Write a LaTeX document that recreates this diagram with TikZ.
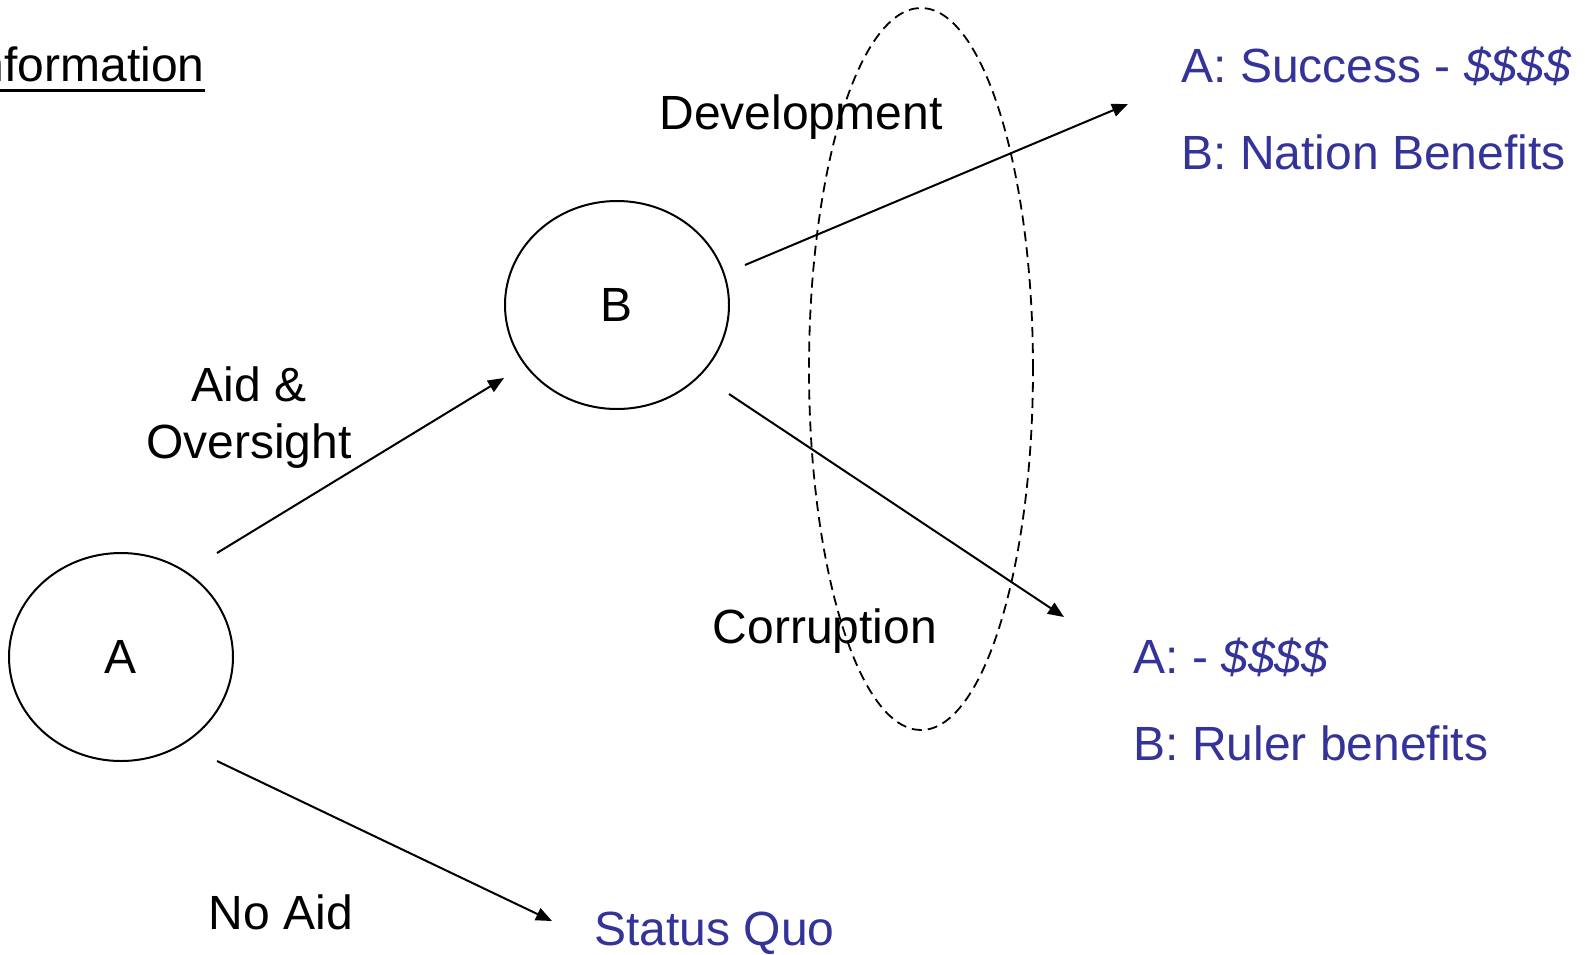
\documentclass[tikz,border=0pt]{standalone}
\usepackage{fontspec}
\setmainfont{Liberation Sans}
\usetikzlibrary{arrows.meta, calc, shapes.geometric}
\definecolor{outc}{HTML}{333399}
\tikzset{
  big/.style={font=\fontsize{24}{28.5}\selectfont},
  player/.style={ellipse, draw=black, line width=1pt, minimum width=112pt,
                 minimum height=104pt, inner sep=0pt, big},
  grp/.style={ellipse, draw=black, line width=0.9pt, dash pattern=on 5pt off 3pt,
              minimum width=112pt, minimum height=361pt, inner sep=0pt},
  lbl/.style={big, inner sep=0pt, anchor=base},
  res/.style={big, text=outc, inner sep=0pt, anchor=base west},
  arr/.style={-{Triangle[length=8pt,width=6.5pt]}, line width=1pt},
}
\begin{document}
\begin{tikzpicture}[x=0.5pt, y=-0.5pt]
\useasboundingbox (0,0) rectangle (1585,954);

% ---------------- players ----------------
\node[player] (A) at (121,657) {A};
\node[player] (B) at (617,305) {B};
\node[grp] (ring) at (921,369) {};

% ---------------- title ----------------
\node[lbl, anchor=base east] (info) at (205,81) {Information};
\draw[line width=1.5pt] ($(info.base west)+(0,9)$) -- ($(info.base east)+(0,9)$);

% ---------------- move labels ----------------
\node[lbl, align=center] (aid) at (249,458) {Aid \&\\Oversight};
\node[lbl] (noaid) at (281,929) {No Aid};
\node[lbl] (devl) at (801,129) {Development};
\node[lbl] (corl) at (825,643) {Corruption};

% ---------------- outcomes ----------------
\node[res] (sucA) at (1181,82) {A: Success - {\itshape\$\$\$\$}};
\node[res] (sucB) at (1181,169) {B: Nation Benefits};
\node[res] (corA) at (1133,673) {A: - {\itshape\$\$\$\$}};
\node[res] (corB) at (1133,760) {B: Ruler benefits};
\node[res] (quo) at (594,945) {Status Quo};

% ---------------- arrows ----------------
\draw[arr] ($(A)+(96,-104)$) -- ($(B)+(-113,73)$);
\draw[arr] ($(A)+(96,104)$) -- ($(quo.base west)+(-42,-24)$);
\draw[arr] ($(B)+(128,-40)$) -- ($(sucA.base west)+(-53,22)$);
\draw[arr] ($(B)+(112,89)$) -- ($(corA.base west)+(-69,-56)$);

\end{tikzpicture}
\end{document}
